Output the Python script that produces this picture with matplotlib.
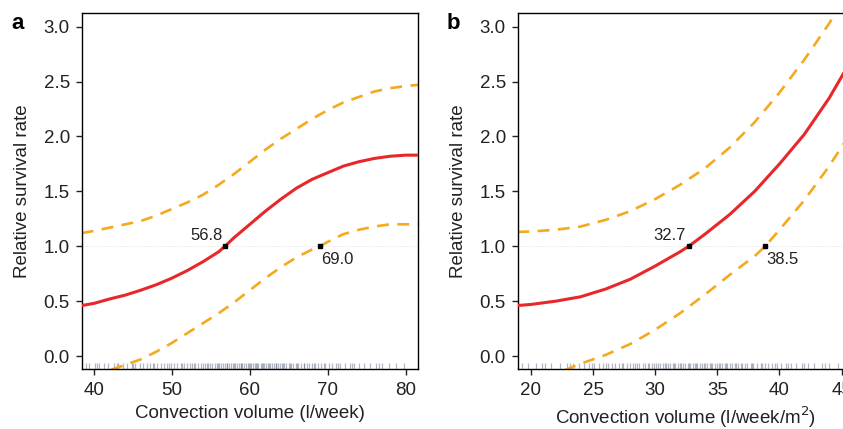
import numpy as np
import matplotlib.pyplot as plt

plt.rcParams['font.family'] = ['Liberation Sans', 'DejaVu Sans']

# panel a: convection volume (l/week)
xa_fit = [38.4, 40, 42, 44, 46, 48, 50, 52, 54, 56, 56.8, 58, 60, 62, 64, 66, 68, 70,
          72, 74, 76, 78, 80, 81.6]
ya_fit = [0.46, 0.48, 0.52, 0.555, 0.60, 0.65, 0.71, 0.78, 0.86, 0.95, 1.0, 1.08, 1.20,
          1.32, 1.43, 1.53, 1.61, 1.67, 1.73, 1.77, 1.80, 1.82, 1.83, 1.83]
xa_up = [38.4, 40, 42, 44, 46, 48, 50, 52, 54, 56, 58, 60, 62, 64, 66, 68, 70, 72, 74,
         76, 78, 80, 81.6]
ya_up = [1.12, 1.14, 1.17, 1.20, 1.23, 1.28, 1.34, 1.40, 1.47, 1.56, 1.66, 1.77, 1.88,
         1.98, 2.07, 2.16, 2.24, 2.31, 2.36, 2.41, 2.44, 2.46, 2.47]
xa_lo = [42.2, 44, 46, 48, 50, 52, 54, 56, 58, 60, 62, 64, 66, 68, 69, 70, 72, 74, 76,
         78, 80, 81.6]
ya_lo = [-0.125, -0.08, -0.03, 0.04, 0.12, 0.21, 0.30, 0.39, 0.49, 0.60, 0.71, 0.81,
         0.90, 0.97, 1.0, 1.04, 1.11, 1.15, 1.18, 1.20, 1.20, 1.20]
rug_a = [38.9, 39.4, 40.1, 40.6, 41.3, 41.8, 42.5, 43.1, 43.7, 44.2, 44.8, 45.3, 45.9,
         46.3, 46.8, 47.2, 47.7, 48.1, 48.6, 49.0, 49.4, 49.9, 50.3, 50.7, 51.1, 51.5,
         51.9, 52.3, 52.6, 53.0, 53.3, 53.7, 54.0, 54.3, 54.6, 54.9, 55.2, 55.5, 55.8,
         56.0, 56.3, 56.6, 56.8, 57.1, 57.3, 57.6, 57.8, 58.1, 58.3, 58.6, 58.8, 59.0,
         59.3, 59.5, 59.7, 60.0, 60.2, 60.4, 60.7, 60.9, 61.1, 61.4, 61.6, 61.8, 62.1,
         62.3, 62.6, 62.8, 63.1, 63.3, 63.6, 63.9, 64.1, 64.4, 64.7, 65.0, 65.3, 65.6,
         65.9, 66.2, 66.6, 66.9, 67.3, 67.6, 68.0, 68.4, 68.8, 69.2, 69.7, 70.1, 70.6,
         71.1, 71.6, 72.2, 72.8, 73.4, 74.0, 74.7, 75.4, 76.2, 77.0, 77.9, 78.8, 79.8,
         40.4, 42.9, 45.0, 47.5, 49.6, 51.3, 52.8, 54.5, 55.9, 57.0, 58.0, 58.9, 59.9,
         60.8, 61.7, 62.5, 63.4, 64.3, 65.1, 66.0, 67.0, 68.2, 69.5, 71.3, 73.1, 76.6]
cross_a = [56.8, 69.0]
labels_a = ["56.8", "69.0"]

# panel b: convection volume (l/week/m2)
xb_fit = [18.9, 20, 22, 24, 26, 28, 30, 32, 32.7, 34, 36, 38, 40, 42, 44, 46]
yb_fit = [0.46, 0.47, 0.50, 0.54, 0.61, 0.70, 0.82, 0.95, 1.0, 1.11, 1.29, 1.50, 1.75,
          2.02, 2.35, 2.74]
xb_up = [18.9, 20, 22, 24, 26, 28, 30, 32, 34, 36, 38, 40, 42, 44, 45]
yb_up = [1.13, 1.135, 1.15, 1.18, 1.24, 1.32, 1.43, 1.56, 1.71, 1.90, 2.13, 2.40, 2.70,
         3.03, 3.22]
xb_lo = [22.7, 24, 26, 28, 30, 32, 34, 36, 38, 38.85, 40, 42, 44, 46]
yb_lo = [-0.13, -0.07, 0.01, 0.11, 0.24, 0.39, 0.56, 0.74, 0.91, 1.0, 1.15, 1.42, 1.73,
         2.08]
rug_b = [19.3, 19.8, 20.4, 21.1, 21.6, 22.3, 22.9, 23.4, 23.9, 24.3, 24.7, 25.1, 25.5,
         25.8, 26.2, 26.5, 26.8, 27.1, 27.4, 27.7, 28.0, 28.2, 28.5, 28.7, 29.0, 29.2,
         29.5, 29.7, 29.9, 30.2, 30.4, 30.6, 30.8, 31.0, 31.2, 31.4, 31.6, 31.8, 32.0,
         32.2, 32.4, 32.6, 32.8, 33.0, 33.2, 33.4, 33.6, 33.8, 34.0, 34.2, 34.4, 34.6,
         34.8, 35.0, 35.2, 35.4, 35.6, 35.8, 36.0, 36.2, 36.5, 36.7, 36.9, 37.2, 37.4,
         37.7, 37.9, 38.2, 38.5, 38.8, 39.1, 39.4, 39.8, 40.1, 40.5, 40.9, 41.3, 41.8,
         42.3, 42.8, 43.4, 44.0, 44.7, 45.3,
         20.9, 23.1, 24.9, 26.0, 27.3, 28.4, 29.4, 30.1, 30.9, 31.5, 32.1, 32.7, 33.3,
         33.9, 34.5, 35.1, 35.7, 36.4, 37.0, 37.8, 38.6, 39.6, 40.7, 42.0, 43.7]
cross_b = [32.7, 38.85]
labels_b = ["32.7", "38.5"]

red = '#e8272b'
orange = '#f5a91f'

fig = plt.figure(figsize=(8.43, 4.29), dpi=100)
ax_a = fig.add_axes([0.0969, 0.1399, 0.399, 0.8298])
ax_b = fig.add_axes([0.6141, 0.1399, 0.399, 0.8298])

panels = [
    (ax_a, xa_fit, ya_fit, xa_up, ya_up, xa_lo, ya_lo, rug_a, cross_a, labels_a,
     (38.4, 81.6), [40, 50, 60, 70, 80], "Convection volume (l/week)", "a"),
    (ax_b, xb_fit, yb_fit, xb_up, yb_up, xb_lo, yb_lo, rug_b, cross_b, labels_b,
     (18.93, 46.0), [20, 25, 30, 35, 40, 45], "Convection volume (l/week/m$^2$)", "b"),
]

for ax, xf, yf, xu, yu, xl, yl, rug, cross, labs, xlim, xt, xlab, letter in panels:
    ax.axhline(1.0, color='#dddddd', lw=0.6, ls=':', zorder=1)
    ax.vlines(rug, -0.125, -0.065, color='#4a5570', alpha=0.42, lw=0.9, zorder=1)
    ax.plot(xu, yu, color=orange, lw=1.9, dashes=(4.5, 3.2), zorder=2)
    ax.plot(xl, yl, color=orange, lw=1.9, dashes=(4.5, 3.2), zorder=2)
    ax.plot(xf, yf, color=red, lw=2.2, zorder=3)
    ax.plot(cross, [1.0, 1.0], 's', color='black', ms=2.6, zorder=4)
    ax.annotate(labs[0], (cross[0], 1.0), xytext=(-2, 2), textcoords='offset points',
                ha='right', va='bottom', fontsize=12, color='#222222')
    ax.annotate(labs[1], (cross[1], 1.0), xytext=(1, -4), textcoords='offset points',
                ha='left', va='top', fontsize=12, color='#222222')

    ax.set_xlim(*xlim)
    ax.set_ylim(-0.118, 3.125)
    ax.set_xticks(xt)
    ax.set_yticks(np.arange(0, 3.01, 0.5))
    ax.set_yticklabels([f"{v:.1f}" for v in np.arange(0, 3.01, 0.5)])
    ax.tick_params(labelsize=13.5, length=4.5, width=1.0, colors='#222222')
    ax.tick_params(axis='x', pad=5)
    ax.tick_params(axis='y', pad=4)
    for s in ax.spines.values():
        s.set_linewidth(1.0)
        s.set_color('black')
    ax.set_xlabel(xlab, fontsize=13.5, color='#222222', labelpad=4)
    ax.set_ylabel("Relative survival rate", fontsize=13.5, color='#222222', labelpad=9)
    ax.text(-0.21, 1.0, letter, transform=ax.transAxes, fontsize=16, fontweight='bold',
            ha='left', va='top')

fig.savefig('out.png', dpi=100)
